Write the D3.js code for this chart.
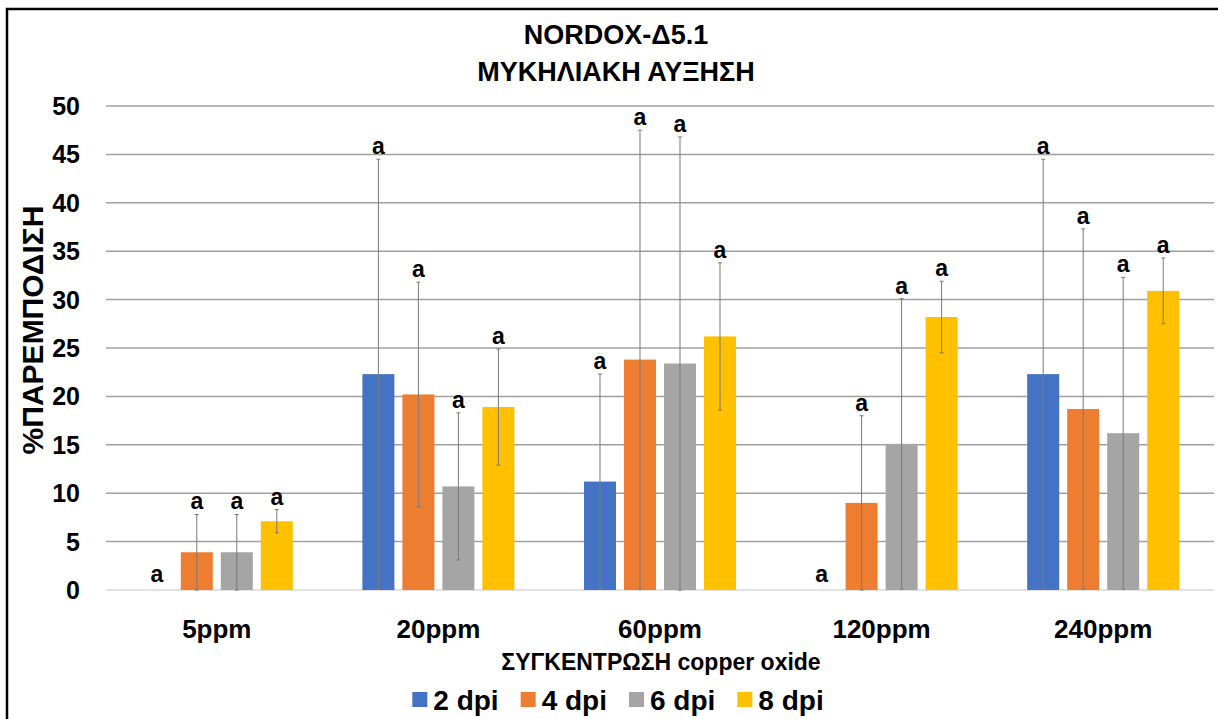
<!DOCTYPE html>
<html>
<head>
    <meta charset="utf-8" />
    <title>NORDOX-Δ5.1</title>
    <style>
        body { margin: 0; background: #fff; }
        svg { display: block; font-family: "Liberation Sans", Arial, sans-serif; font-weight: bold; }
    </style>
</head>
<body>
    <div id="chart"></div>
    <script src="https://cdn.jsdelivr.net/npm/d3@7"></script>
    <script>
        // values
        var categories = ["5ppm", "20ppm", "60ppm", "120ppm", "240ppm"];
        var seriesNames = ["2 dpi", "4 dpi", "6 dpi", "8 dpi"];
        var dpi2 = [0, 22.3, 11.2, 0, 22.3];
        var dpi4 = [3.9, 20.2, 23.8, 9.0, 18.7];
        var dpi6 = [3.9, 10.7, 23.4, 15.1, 16.2];
        var dpi8 = [7.1, 18.9, 26.2, 28.2, 30.9];
        var err2 = [0, 22.2, 11.1, 0, 22.2];
        var err4 = [3.9, 11.6, 23.7, 9.0, 18.6];
        var err6 = [3.9, 7.6, 23.4, 15.0, 16.1];
        var err8 = [1.2, 6.0, 7.6, 3.7, 3.4];
        var letters = ["a", "a", "a", "a", "a"];
        var yTicks = [0, 5, 10, 15, 20, 25, 30, 35, 40, 45, 50];
        var colors = ["#4472C4", "#ED7D31", "#A5A5A5", "#FFC000"];

        var width = 1218, height = 719;
        var values = [dpi2, dpi4, dpi6, dpi8];
        var errors = [err2, err4, err6, err8];

        var rows = [];
        categories.forEach(function (c, i) {
            seriesNames.forEach(function (s, j) {
                rows.push({ cat: c, series: s, value: values[j][i], err: errors[j][i], label: letters[i], color: colors[j] });
            });
        });

        var svg = d3.select("#chart").append("svg")
            .attr("width", width)
            .attr("height", height);

        // frame
        svg.append("path")
            .attr("d", "M7," + height + "V9H" + width)
            .attr("fill", "none")
            .attr("stroke", "#000")
            .attr("stroke-width", 2.5);

        var x0 = d3.scaleBand()
            .domain(categories)
            .range([106, 1214])
            .paddingInner(0.314)
            .paddingOuter(0.157);

        var x1 = d3.scaleBand()
            .domain(seriesNames)
            .range([0, x0.bandwidth()])
            .paddingInner(0.2);

        var y = d3.scaleLinear().domain([0, 50]).range([590, 106]);

        // gridlines
        svg.append("g")
            .selectAll("line")
            .data(yTicks)
            .join("line")
            .attr("x1", 106)
            .attr("x2", 1214)
            .attr("y1", d => y(d))
            .attr("y2", d => y(d))
            .attr("stroke", d => d === 0 ? "#d9d9d9" : "#a0a0a0")
            .attr("stroke-width", 1.5);

        // y tick labels
        svg.append("g")
            .attr("font-size", 25)
            .attr("text-anchor", "end")
            .selectAll("text")
            .data(yTicks)
            .join("text")
            .attr("x", 80)
            .attr("y", d => y(d))
            .attr("dy", "0.36em")
            .text(d => d);

        // bars
        svg.append("g")
            .selectAll("rect")
            .data(rows)
            .join("rect")
            .attr("x", d => x0(d.cat) + x1(d.series))
            .attr("width", x1.bandwidth())
            .attr("y", d => y(d.value))
            .attr("height", d => y(0) - y(d.value))
            .attr("fill", d => d.color);

        // error bars
        var eb = svg.append("g")
            .attr("stroke", "#7a7a7a")
            .attr("stroke-width", 1)
            .selectAll("g")
            .data(rows.filter(d => d.err > 0))
            .join("g")
            .attr("transform", d => "translate(" + (x0(d.cat) + x1(d.series) + x1.bandwidth() / 2) + ",0)");
        eb.append("line")
            .attr("y1", d => y(Math.max(0, d.value - d.err)))
            .attr("y2", d => y(d.value + d.err));
        eb.append("line")
            .attr("x1", -2).attr("x2", 2)
            .attr("y1", d => y(d.value + d.err))
            .attr("y2", d => y(d.value + d.err));
        eb.append("line")
            .attr("x1", -2).attr("x2", 2)
            .attr("y1", d => y(Math.max(0, d.value - d.err)))
            .attr("y2", d => y(Math.max(0, d.value - d.err)));

        // significance letters
        svg.append("g")
            .attr("font-size", 23)
            .attr("text-anchor", "middle")
            .selectAll("text")
            .data(rows)
            .join("text")
            .attr("x", d => x0(d.cat) + x1(d.series) + x1.bandwidth() / 2)
            .attr("y", d => y(d.value + d.err) - (d.value + d.err > 0 ? 5 : 8))
            .text(d => d.label);

        // x tick labels
        svg.append("g")
            .attr("font-size", 26)
            .attr("text-anchor", "middle")
            .selectAll("text")
            .data(categories)
            .join("text")
            .attr("x", d => x0(d) + x0.bandwidth() / 2)
            .attr("y", 638)
            .text(d => d);

        // titles
        svg.append("text")
            .attr("x", 616).attr("y", 44)
            .attr("text-anchor", "middle")
            .attr("font-size", 27)
            .text("NORDOX-Δ5.1");
        svg.append("text")
            .attr("x", 616).attr("y", 81)
            .attr("text-anchor", "middle")
            .attr("font-size", 27)
            .text("ΜΥΚΗΛΙΑΚΗ ΑΥΞΗΣΗ");

        svg.append("text")
            .attr("x", 661).attr("y", 670)
            .attr("text-anchor", "middle")
            .attr("font-size", 23)
            .text("ΣΥΓΚΕΝΤΡΩΣΗ copper oxide");

        svg.append("text")
            .attr("transform", "translate(43,330) rotate(-90)")
            .attr("text-anchor", "middle")
            .attr("font-size", 30)
            .text("%ΠΑΡΕΜΠΟΔΙΣΗ");

        // legend
        var legend = svg.append("g").attr("font-size", 28);
        var lx = 0;
        var items = legend.selectAll("g")
            .data(seriesNames)
            .join("g");
        items.append("rect")
            .attr("y", 692)
            .attr("width", 15)
            .attr("height", 15)
            .attr("fill", (d, i) => colors[i]);
        items.append("text")
            .attr("x", 21)
            .attr("y", 710)
            .text(d => d);
        items.each(function () {
            var g = d3.select(this);
            g.attr("transform", "translate(" + lx + ",0)");
            lx += 21 + g.select("text").node().getComputedTextLength() + 22;
        });
        lx -= 22;
        legend.attr("transform", "translate(" + (618 - lx / 2) + ",0)");
    </script>
</body>
</html>
